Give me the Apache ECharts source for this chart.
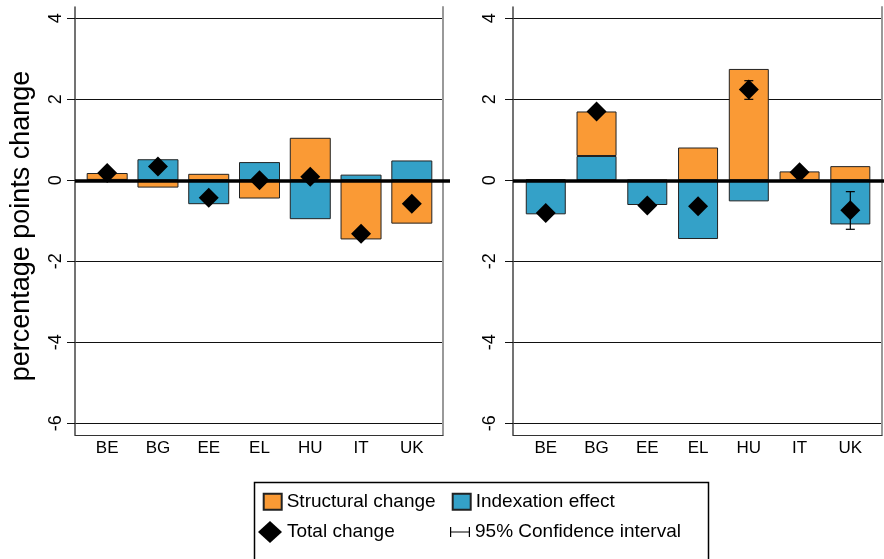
<!DOCTYPE html>
<html>
<head>
<meta charset="utf-8">
<script src="https://cdn.jsdelivr.net/npm/echarts@6/dist/echarts.min.js"></script>
<style>
  html, body { margin: 0; padding: 0; background: #fff; }
  #chart { width: 884px; height: 559px; }
</style>
</head>
<body>
<div id="chart"></div>
<script>
// Countries on the horizontal axis of both panels
const categories = ['BE', 'BG', 'EE', 'EL', 'HU', 'IT', 'UK'];

// Left panel: decomposition of the change (percentage points)
const structuralLeft = [0.17, -0.18, 0.16, -0.45, 1.05, -1.46, -1.07];
const indexationLeft = [0.01, 0.52, -0.59, 0.45, -0.96, 0.14, 0.49];
const totalLeft = [0.18, 0.34, -0.43, 0.00, 0.09, -1.32, -0.58];

// Right panel
const structuralRight = [0.03, 1.10, 0.01, 0.81, 2.75, 0.22, 0.35];
const indexationRight = [-0.84, 0.60, -0.61, -1.45, -0.52, -0.02, -1.09];
const totalRight = [-0.81, 1.70, -0.62, -0.64, 2.24, 0.20, -0.74];
const ciLowRight = [null, null, null, null, 2.00, null, -1.21];
const ciHighRight = [null, null, null, null, 2.46, null, -0.28];

// Value axis ticks
const yTicks = [-6, -4, -2, 0, 2, 4];
const Y_MIN = -6.29, Y_MAX = 4.28;

const FONT = '"Liberation Sans", Arial, Helvetica, sans-serif';
const ORANGE = '#FA9A35';
const BLUE = '#34A1C8';
const GRID_TOP = 7, GRID_H = 428;

const grids = [], xAxes = [], yAxes = [], series = [];

function ciItems(low, high) {
  const out = [];
  low.forEach((v, i) => { if (v !== null && high[i] !== null) out.push([i, v, high[i]]); });
  return out;
}

function addPanel(p) {
  const g0 = grids.length;
  // frame grid: value axis, gridlines, borders
  grids.push({ left: p.frameLeft, top: GRID_TOP, width: p.frameRight - p.frameLeft, height: GRID_H, outerBoundsMode: 'none' });
  // grid for the thick zero line
  grids.push({ left: p.frameLeft, top: GRID_TOP, width: p.zeroRight - p.frameLeft, height: GRID_H, outerBoundsMode: 'none' });
  // grid holding the bars and markers
  grids.push({ left: p.dataLeft, top: GRID_TOP, width: p.dataRight - p.dataLeft, height: GRID_H, outerBoundsMode: 'none' });

  const x0 = xAxes.length;
  xAxes.push({
    gridIndex: g0, type: 'value', min: 0, max: 1,
    axisLine: { show: true, onZero: false, lineStyle: { color: '#333', width: 1 } },
    axisTick: { show: false }, axisLabel: { show: false }, splitLine: { show: false }
  });
  xAxes.push({
    gridIndex: g0 + 1, type: 'value', min: 0, max: 1, show: false
  });
  xAxes.push({
    gridIndex: g0 + 2, type: 'category', data: categories,
    axisLine: { show: false }, axisTick: { show: false },
    axisLabel: { color: '#000', fontSize: 17, fontFamily: FONT, margin: 5 },
    splitLine: { show: false }
  });

  const y0 = yAxes.length;
  yAxes.push({
    gridIndex: g0, type: 'value', min: Y_MIN, max: Y_MAX, position: 'left',
    name: p.showName ? 'percentage points change' : '',
    nameLocation: 'middle', nameGap: 40,
    nameTextStyle: { color: '#000', fontSize: 27, fontFamily: FONT, padding: [0, 10, 0, 0] },
    axisLine: { show: true, onZero: false, lineStyle: { color: '#444', width: 1.5 } },
    axisTick: { show: true, customValues: yTicks, length: 8, lineStyle: { color: '#111', width: 1 } },
    axisLabel: { customValues: yTicks, rotate: 90, margin: p.labelMargin, color: '#000', fontSize: 18, fontFamily: FONT },
    splitLine: { show: true, lineStyle: { color: '#111', width: 1 } }
  });
  yAxes.push({
    gridIndex: g0, type: 'value', min: Y_MIN, max: Y_MAX, position: 'right',
    axisLine: { show: true, onZero: false, lineStyle: { color: '#999', width: 2 } },
    axisTick: { show: false }, axisLabel: { show: false }, splitLine: { show: false }
  });
  yAxes.push({ gridIndex: g0 + 1, type: 'value', min: Y_MIN, max: Y_MAX, show: false, splitLine: { show: false } });
  yAxes.push({ gridIndex: g0 + 2, type: 'value', min: Y_MIN, max: Y_MAX, show: false, splitLine: { show: false } });

  const stackId = 'stack' + g0;
  const barStyle = (c) => ({ color: c, borderColor: '#222', borderWidth: 1 });

  series.push({
    name: 'Indexation effect', type: 'bar', xAxisIndex: x0 + 2, yAxisIndex: y0 + 3,
    stack: stackId, barWidth: p.barWidth, data: p.indexation, itemStyle: barStyle(BLUE), z: 2, silent: true
  });
  series.push({
    name: 'Structural change', type: 'bar', xAxisIndex: x0 + 2, yAxisIndex: y0 + 3,
    stack: stackId, barWidth: p.barWidth, data: p.structural, itemStyle: barStyle(ORANGE), z: 2, silent: true
  });
  series.push({
    type: 'line', xAxisIndex: x0 + 1, yAxisIndex: y0 + 2, data: [], silent: true,
    markLine: {
      silent: true, symbol: ['none', 'none'], z: 5,
      label: { show: false },
      lineStyle: { color: '#000', width: 3.5, type: 'solid' },
      data: [{ yAxis: 0 }]
    }
  });
  if (p.ciLow) {
    series.push({
      name: '95% Confidence interval', type: 'custom', xAxisIndex: x0 + 2, yAxisIndex: y0 + 3,
      z: 6, silent: true, itemStyle: { color: '#000' },
      encode: { x: 0, y: [1, 2] },
      data: ciItems(p.ciLow, p.ciHigh),
      renderItem: function (params, api) {
        const x = api.value(0);
        const a = api.coord([x, api.value(1)]);
        const b = api.coord([x, api.value(2)]);
        const cap = 4.5;
        const st = { stroke: '#000', lineWidth: 1.2 };
        return {
          type: 'group',
          children: [
            { type: 'line', shape: { x1: a[0], y1: a[1], x2: b[0], y2: b[1] }, style: st },
            { type: 'line', shape: { x1: a[0] - cap, y1: a[1], x2: a[0] + cap, y2: a[1] }, style: st },
            { type: 'line', shape: { x1: b[0] - cap, y1: b[1], x2: b[0] + cap, y2: b[1] }, style: st }
          ]
        };
      }
    });
  }
  series.push({
    name: 'Total change', type: 'scatter', xAxisIndex: x0 + 2, yAxisIndex: y0 + 3,
    symbol: 'diamond', symbolSize: 20, data: p.total, z: 7, silent: true,
    itemStyle: { color: '#000', opacity: 1 }
  });
}

addPanel({
  frameLeft: 75, frameRight: 443, zeroRight: 450, dataLeft: 81.8, dataRight: 437.2,
  barWidth: 41, labelMargin: 10, showName: true,
  structural: structuralLeft, indexation: indexationLeft, total: totalLeft
});
addPanel({
  frameLeft: 513, frameRight: 882, zeroRight: 884, dataLeft: 520.4, dataRight: 875.7,
  barWidth: 40, labelMargin: 14, showName: false,
  structural: structuralRight, indexation: indexationRight, total: totalRight,
  ciLow: ciLowRight, ciHigh: ciHighRight
});

const legendText = { color: '#000', fontSize: 19, fontFamily: FONT, lineHeight: 22 };
const legends = [
  { left: 262.7, top: 490.7, itemWidth: 18, itemHeight: 16,
    data: [{ name: 'Structural change', icon: 'rect' }] },
  { left: 451.7, top: 490.7, itemWidth: 18, itemHeight: 16,
    data: [{ name: 'Indexation effect', icon: 'rect' }] },
  { left: 258, top: 521, itemWidth: 24, itemHeight: 22,
    data: [{ name: 'Total change', icon: 'diamond', itemStyle: { color: '#000', opacity: 1 } }] },
  { left: 450, top: 521, itemWidth: 20, itemHeight: 10,
    data: [{ name: '95% Confidence interval',
             icon: 'path://M0,0h1.2v10h-1.2z M0,4.4h20v1.2h-20z M18.8,0h1.2v10h-1.2z',
             itemStyle: { color: '#000', borderWidth: 0 } }] }
].map(l => Object.assign({ orient: 'horizontal', padding: 0, itemGap: 0, selectedMode: false,
                           textStyle: legendText }, l));

const chart = echarts.init(document.getElementById('chart'), null, { renderer: 'canvas' });
chart.setOption({
  animation: false,
  backgroundColor: '#fff',
  textStyle: { fontFamily: FONT },
  grid: grids,
  xAxis: xAxes,
  yAxis: yAxes,
  legend: legends,
  graphic: [{
    type: 'rect', left: 252, top: 480, silent: true,
    shape: { width: 454, height: 90 },
    style: { fill: 'none', stroke: '#000', lineWidth: 1.5 }
  }],
  series: series
});
</script>
</body>
</html>
